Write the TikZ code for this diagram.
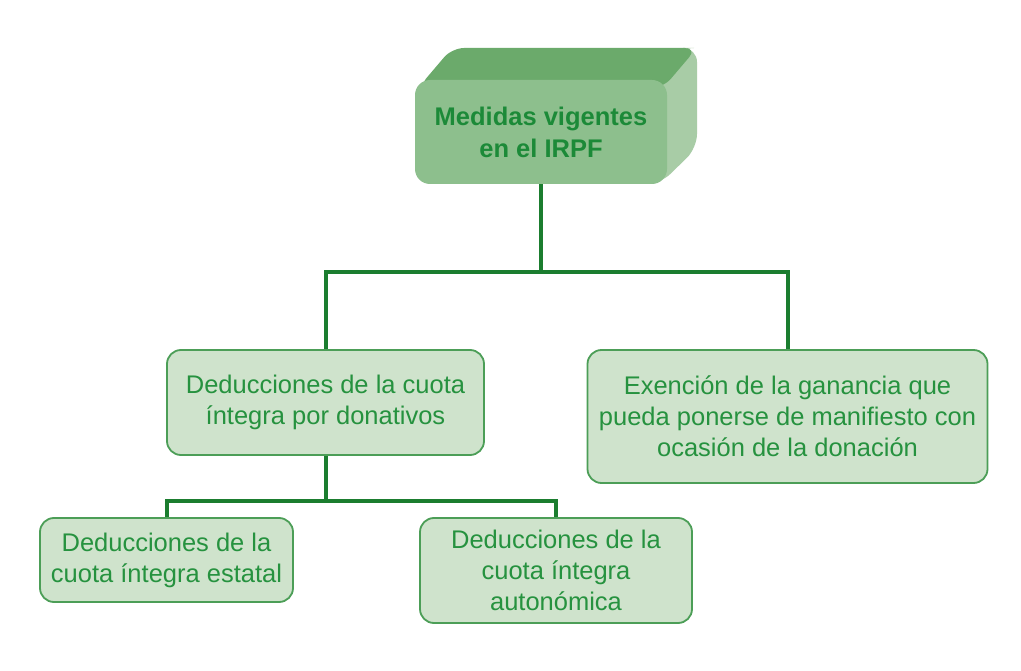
\documentclass[tikz,border=0pt]{standalone}
\usepackage{fontspec}
\setmainfont{Liberation Sans}
\definecolor{boxfill}{HTML}{CFE3CC}
\definecolor{boxline}{HTML}{4C9E57}
\definecolor{txt}{HTML}{26923F}
\definecolor{toptxt}{HTML}{1C8A38}
\definecolor{linecol}{HTML}{1B7D2F}
\definecolor{frontcol}{HTML}{8DBF8D}
\definecolor{topcol}{HTML}{6BAA6B}
\definecolor{sidecol}{HTML}{A8CCA6}
\begin{document}
\begin{tikzpicture}[x=1pt,y=-1pt,
  box/.style={draw=boxline, line width=1.8pt, fill=boxfill, rounded corners=14pt,
    text=txt, font=\fontsize{25.5}{31}\selectfont, align=center, inner sep=0pt},
  frontbox/.style={fill=frontcol, rounded corners=15pt, text=toptxt,
    font=\bfseries\fontsize{25.5}{32}\selectfont, align=center, inner sep=0pt},
  conn/.style={draw=linecol, line width=4pt}]
\useasboundingbox[fill=white] (0,0) rectangle (1021,671);

% 3D top box: back part (top and right faces)
\fill[sidecol, rounded corners=14pt] (640,90) -- (680,48) -- (697,48) -- (697,148) -- (660,184) -- (640,184) -- cycle;
\fill[topcol, rounded corners=12pt] (418,88) -- (452,48) -- (697,48) -- (663,88) -- cycle;
\node[frontbox, minimum width=252pt, minimum height=104pt] (top) at (541,132)
  {Medidas vigentes\\en el IRPF};

% second level
\node[box, minimum width=317pt, minimum height=105pt] (don) at (325.5,402.5)
  {Deducciones de la cuota\\íntegra por donativos};
\node[box, minimum width=400pt, minimum height=133pt] (exen) at (787.5,416.5)
  {Exención de la ganancia que\\pueda ponerse de manifiesto con\\ocasión de la donación};

% third level
\node[box, minimum width=253pt, minimum height=84pt] (est) at (166.5,560)
  {Deducciones de la\\cuota íntegra estatal};
\node[box, minimum width=272pt, minimum height=105pt] (aut) at (556,570.5)
  {Deducciones de la\\cuota íntegra\\autonómica};

% connectors
\coordinate (j1) at (541,272);
\draw[conn] (top.south) -- (j1);
\draw[conn] (don.north) |- (j1) -| (exen.north);
\path (don.south) ++(0,45) coordinate (j2);
\draw[conn] (don.south) -- (j2);
\draw[conn] (est.north) |- (j2) -| (aut.north);
\end{tikzpicture}
\end{document}
